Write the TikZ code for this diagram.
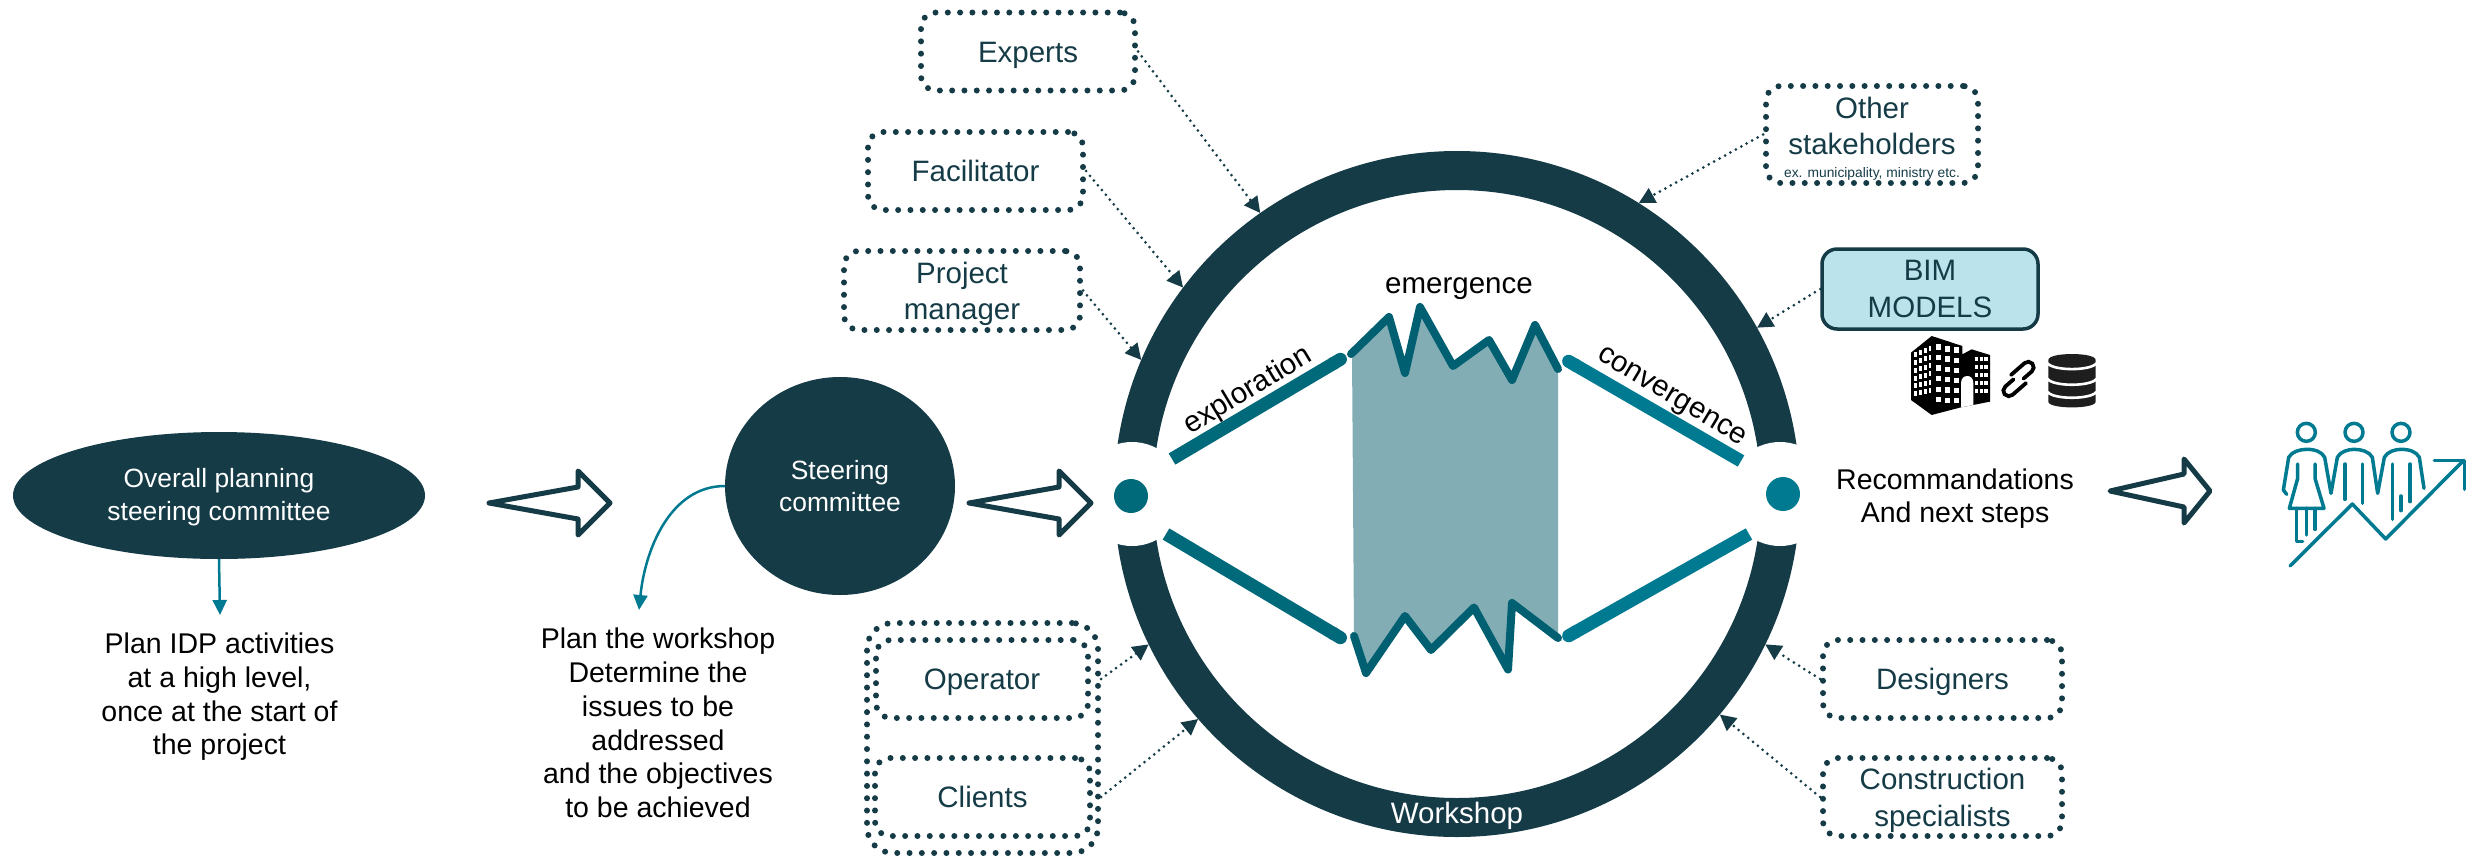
\documentclass[tikz,border=0pt]{standalone}
\usepackage{fontspec}
\setmainfont{Liberation Sans}
\usetikzlibrary{arrows.meta,shapes.geometric}
\definecolor{darkc}{HTML}{153B47}
\definecolor{tealc}{HTML}{007A91}
\definecolor{teald}{HTML}{00697A}
\definecolor{zigc}{HTML}{005F70}
\definecolor{shadec}{HTML}{83ADB5}
\definecolor{bimc}{HTML}{BBE3EC}
\definecolor{dbc}{HTML}{1E1E1E}
\newcommand{\fBox}{\fontsize{29.5}{36.5}\selectfont}
\newcommand{\fBlack}{\fontsize{28.5}{33.7}\selectfont}
\newcommand{\fWhite}{\fontsize{26.4}{32.5}\selectfont}
\tikzset{
  dotbox/.style={rectangle,draw=darkc,line width=6pt,line cap=round,dash pattern=on 0pt off 12.3pt,
    rounded corners=15pt,inner sep=0pt,text=darkc,font=\fBox,align=center},
  oneline/.style={text height=27pt,text depth=6pt},
  twoline/.style={text height=64pt,text depth=6pt},
  dotarrow/.style={draw=darkc,line width=3pt,line cap=round,dash pattern=on 0pt off 6.2pt,
    -{Triangle[length=16pt,width=16pt]}},
  hollow/.style={draw=darkc,fill=white,line width=5pt,line join=round},
  blacktext/.style={inner sep=0pt,text=black,font=\fBlack,align=center},
  whitetext/.style={inner sep=0pt,text=white,font=\fWhite,align=center},
  tealarrow/.style={draw=tealc,line width=2.5pt,-{Triangle[length=15pt,width=14pt]}},
  phaseline/.style={line width=13pt,-{Round Cap[]}},
  zig/.style={draw=zigc,line width=8pt,line join=round,line cap=round},
  iconline/.style={draw=tealc,line width=3.5pt,line cap=round,line join=round}
}
\begin{document}
\begin{tikzpicture}[x=1pt,y=-1pt]
\useasboundingbox (0,0) rectangle (2481,857);

% ---- ring
\node[circle,draw=darkc,line width=39pt,minimum size=647pt,inner sep=0pt] (ring) at (1457,494) {};
\node[circle,fill=white,minimum size=104pt,inner sep=0pt] (lcut) at (1132,494) {};
\node[circle,fill=white,minimum size=104pt,inner sep=0pt] (rcut) at (1780,494) {};
\node[circle,fill=teald,minimum size=34pt,inner sep=0pt] (ldot) at (1131,496) {};
\node[circle,fill=tealc,minimum size=34pt,inner sep=0pt] (rdot) at (1783,494) {};
\node[inner sep=0pt,text=white,font=\fBox] (workshop) at (1457,815.5) {Workshop};

% ---- emergence shape
\fill[shadec] (1352,354) -- (1389,317) -- (1405,373) -- (1420,307) -- (1453,366) -- (1489,340)
  -- (1512,380) -- (1535,325) -- (1558,369) -- (1558,638) -- (1512,603) -- (1508,669.5)
  -- (1474,607.5) -- (1431,650) -- (1405,616) -- (1366,673) -- (1354,636) -- cycle;
\draw[zig] (1351,354) -- (1389,317) -- (1405,373) -- (1420,307) -- (1453,366) -- (1489,340)
  -- (1512,380) -- (1535,325) -- (1558,369);
\draw[zig] (1354,636) -- (1366,673) -- (1405,616) -- (1431,650) -- (1474,607.5) -- (1508,669.5)
  -- (1512,603) -- (1558,638);

\coordinate (ex1) at (1172,459);
\coordinate (ex2) at (1346,356);
\coordinate (lo1) at (1166,534);
\coordinate (lo2) at (1346,641);
\coordinate (co1) at (1741,461);
\coordinate (co2) at (1563,358);
\coordinate (ro1) at (1749,534);
\coordinate (ro2) at (1563,639);
\draw[phaseline,draw=teald] (ex1) -- (ex2);
\draw[phaseline,draw=teald] (lo1) -- (lo2);
\draw[phaseline,draw=tealc] (co1) -- (co2);
\draw[phaseline,draw=tealc] (ro1) -- (ro2);

\node[blacktext,font=\fontsize{29.5}{36}\selectfont,rotate=31] (lexp) at (1248,391) {exploration};
\node[blacktext,font=\fontsize{29.5}{36}\selectfont,rotate=-31] (lcon) at (1671,398) {convergence};
\node[blacktext,font=\fontsize{29.5}{36}\selectfont] (lem) at (1459,288.5) {emergence};

% ---- left part
\node[ellipse,fill=darkc,minimum width=412pt,minimum height=127pt,inner sep=0pt,whitetext,text height=55pt,text depth=6pt] (overall) at (219,495.5)
  {Overall planning\\steering committee};
\node[ellipse,fill=darkc,minimum width=230pt,minimum height=218pt,inner sep=0pt,whitetext,text height=57.4pt,text depth=6pt] (steer) at (840,486)
  {Steering\\committee};

\node[blacktext] (plan1) at (219.5,697) {Plan IDP activities\\at a high level,\\once at the start of\\the project};
\node[blacktext] (plan2) at (658,723) {Plan the workshop\\Determine the\\issues to be\\addressed\\and the objectives\\to be achieved};

\coordinate (plan1top) at (220,615);
\coordinate (plan2top) at (639,610);
\draw[tealarrow] (overall.south) -- (plan1top);
\draw[tealarrow] (725,486) .. controls (670,486) and (645,550) .. (plan2top);

\draw[hollow] (489,503) -- (578,487) -- (578,471) -- (610,503) -- (578,535) -- (578,519) -- cycle;
\draw[hollow] (969,503) -- (1059,487) -- (1059,471) -- (1091,503) -- (1059,535) -- (1059,519) -- cycle;
\draw[hollow] (2110,491) -- (2184,474) -- (2184,459) -- (2210,491) -- (2184,523) -- (2184,507) -- cycle;

% ---- boxes
\node[dotbox,oneline,minimum width=214pt,minimum height=78pt] (experts) at (1028,51.5) {Experts};
\node[dotbox,oneline,minimum width=215pt,minimum height=78pt] (facil) at (975.5,171) {Facilitator};
\node[dotbox,twoline,minimum width=236pt,minimum height=79pt] (pm) at (962,290.5) {Project\\manager};
\node[dotbox,oneline,minimum width=212pt,minimum height=78pt] (operator) at (982,679) {Operator};
\node[dotbox,oneline,minimum width=215pt,minimum height=78pt] (clients) at (982.5,797) {Clients};
\node[dotbox,minimum width=231pt,minimum height=230pt,rounded corners=26pt] (owner) at (982.5,738) {};
\node[dotbox,oneline,minimum width=239pt,minimum height=78pt] (designers) at (1942.5,679) {Designers};
\node[dotbox,twoline,minimum width=239pt,minimum height=78pt] (constr) at (1942.5,797) {Construction\\specialists};
\node[dotbox,minimum width=212pt,minimum height=91pt,text height=91pt,text depth=6pt] (other) at (1872,134.5)
  {Other\\stakeholders\\[-14pt]{\fontsize{13.8}{14}\selectfont ex. municipality, ministry etc.}};
\node[rectangle,draw=darkc,fill=bimc,line width=3.5pt,rounded corners=15pt,inner sep=0pt,text=darkc,font=\fBox,
  align=center,minimum width=216pt,minimum height=80pt] (bim) at (1930,289) {BIM\\MODELS};

% ---- connectors
\draw[dotarrow] (experts.east) -- (ring.125.5);
\draw[dotarrow] (facil.east) -- (ring.143);
\draw[dotarrow] (pm.east) -- (ring.157);
\draw[dotarrow] (owner.east |- operator.east) -- (ring.206.3);
\draw[dotarrow] (owner.east |- clients.east) -- (ring.221);
\draw[dotarrow] (designers.west) -- (ring.-26.4);
\draw[dotarrow] (constr.west) -- (ring.-40);
\draw[dotarrow] (other.west) -- (ring.58);
\draw[dotarrow] (bim.west) -- (ring.29);

\node[blacktext] (reco) at (1955,498.5) {Recommandations\\And next steps};

% ---- building, database
\begin{scope}[shift={(1880,320)},x=0.3333pt,y=-0.3333pt]
  \fill[black] (93,98) -- (155,48) -- (247,78) -- (247,103) -- (275,88) -- (330,105) -- (330,245)
    -- (243,262) -- (155,285) -- (93,240) -- cycle;
  \foreach \col/\sk in {168/0,195/5,222/10}{
    \foreach \row in {0,1,2,3,4,5}{
      \fill[white] (\col,72+\sk-\row*\sk*0.15+\row*32) rectangle ++(15,18-\row*0.6);
    }
  }
  \foreach \col/\sk in {102/18,117/12,132/6,146/0}{
    \foreach \row in {0,1,2,3,4,5}{
      \fill[white] (\col,79+\sk-\row*\sk*0.1+\row*25) rectangle ++(7.5,15);
    }
  }
  \foreach \col in {285,299,313}{
    \foreach \row in {0,1,2,3,4}{
      \fill[white] (\col,110+\row*24) rectangle ++(9.5,14);
    }
  }
  \fill[white] (243,262) -- (243,190) .. controls (243,175) and (252,168) .. (262,168)
    .. controls (272,168) and (280,175) .. (280,190) -- (280,255) -- cycle;
  \fill[dbc] (505,120) .. controls (505,96) and (647,96) .. (647,120) -- (647,245)
    .. controls (647,268) and (505,268) .. (505,245) -- cycle;
  \draw[white,line width=2.6pt] (503,130) .. controls (520,153) and (632,153) .. (649,130);
  \draw[white,line width=2.6pt] (503,177) .. controls (520,200) and (632,200) .. (649,177);
  \draw[white,line width=2.6pt] (503,216) .. controls (520,239) and (632,239) .. (649,216);
\end{scope}
% ---- chain link
\begin{scope}[shift={(2018.5,379)},rotate=41,x=1pt,y=1pt,line width=3.8pt,line cap=round]
  \draw[black] (-3,8) -- (15,8) arc (90:-90:5.5) -- (4,-3);
  \draw[black] (3,-8) -- (-15,-8) arc (270:90:5.5) -- (-4,3);
\end{scope}

% ---- people icon
\begin{scope}[shift={(2250,400)},x=0.3333pt,y=-0.3333pt]
  \draw[iconline] (169,97) circle (27);
  \draw[iconline] (312,97) circle (27);
  \draw[iconline] (453,97) circle (27);
  \draw[iconline] (110,283) -- (100,270) -- (116,172) .. controls (125,155) and (150,148) .. (170,148)
    .. controls (195,148) and (215,155) .. (224,172) -- (243,280) -- (262,172)
    .. controls (270,155) and (295,148) .. (312,148) .. controls (335,148) and (358,155) .. (367,172)
    -- (383,280) -- (403,172) .. controls (412,155) and (435,148) .. (453,148)
    .. controls (478,148) and (499,155) .. (508,172) -- (522,265);
  \draw[iconline] (143,192) -- (143,235) -- (118,325) -- (222,325) -- (195,235) -- (195,192);
  \draw[iconline] (140,325) -- (140,425) -- (158,425);
  \draw[iconline] (170,325) -- (170,405);
  \draw[iconline] (195,325) -- (195,388);
  \draw[iconline] (285,192) -- (285,298);
  \draw[iconline] (338,192) -- (338,310);
  \draw[iconline] (427,192) -- (427,358);
  \draw[iconline] (480,192) -- (480,305);
  \draw[iconline] (453,288) -- (453,332);
  \draw[iconline] (120,498) -- (307,312) -- (407,417) -- (640,182);
  \draw[iconline] (553,182) -- (643,182) -- (643,268);
\end{scope}
\end{tikzpicture}
\end{document}
